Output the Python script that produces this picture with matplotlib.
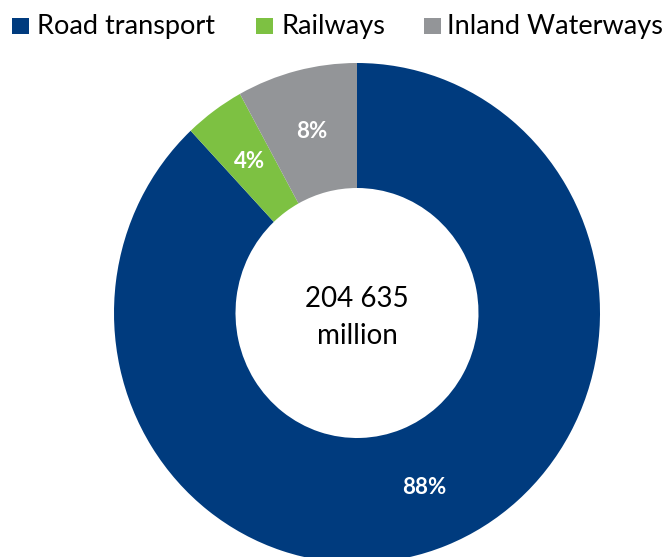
import numpy as np
import matplotlib.pyplot as plt
from matplotlib.patches import Rectangle

# Data
categories = ["Road transport", "Railways", "Inland Waterways"]
shares = [88, 4, 8]
pct_labels = ["88%", "4%", "8%"]
colors = ["#003b7e", "#7dc142", "#939598"]
center_lines = ["204 635", "million"]

W, H = 668, 557
plt.rcParams['font.family'] = ['Lato', 'DejaVu Sans']

fig = plt.figure(figsize=(W / 100, H / 100), dpi=100)

# donut axes, box given in pixels (bottom slightly off the figure, like the source)
x0, x1, y_top, y_bot = 114, 600, 63, 563
ax = fig.add_axes([x0 / W, 1 - y_bot / H, (x1 - x0) / W, (y_bot - y_top) / H])
ring = 0.5
wedges, _ = ax.pie(shares, colors=colors, startangle=90, counterclock=False,
                   radius=1.0, wedgeprops=dict(width=ring, edgecolor="none"))
ax.set_xlim(-1, 1)
ax.set_ylim(-1, 1)
ax.set_aspect("auto")
ax.axis("off")

# percentage labels in the middle of the ring
r_lab = 1.0 - ring / 2
for w, lab in zip(wedges, pct_labels):
    ang = np.deg2rad((w.theta1 + w.theta2) / 2)
    ax.text(r_lab * np.cos(ang), r_lab * np.sin(ang), lab, ha="center", va="center",
            color="white", fontsize=16, fontweight="bold")

ax.text(0, 0.024, center_lines[0], ha="center", va="baseline", fontsize=20)
ax.text(0, -0.124, center_lines[1], ha="center", va="baseline", fontsize=20)

# legend row drawn by hand so it spans the width like the source
sq_x = [12, 256, 424]
txt_x = [37, 282, 447]
for sx, tx, c, name in zip(sq_x, txt_x, colors, categories):
    fig.add_artist(Rectangle((sx / W, 1 - 34 / H), 17 / W, 16 / H,
                             transform=fig.transFigure, facecolor=c, edgecolor="none"))
    fig.text(tx / W, 1 - 34 / H, name, ha="left", va="baseline", fontsize=19.5)

fig.savefig("out.png", dpi=100)
